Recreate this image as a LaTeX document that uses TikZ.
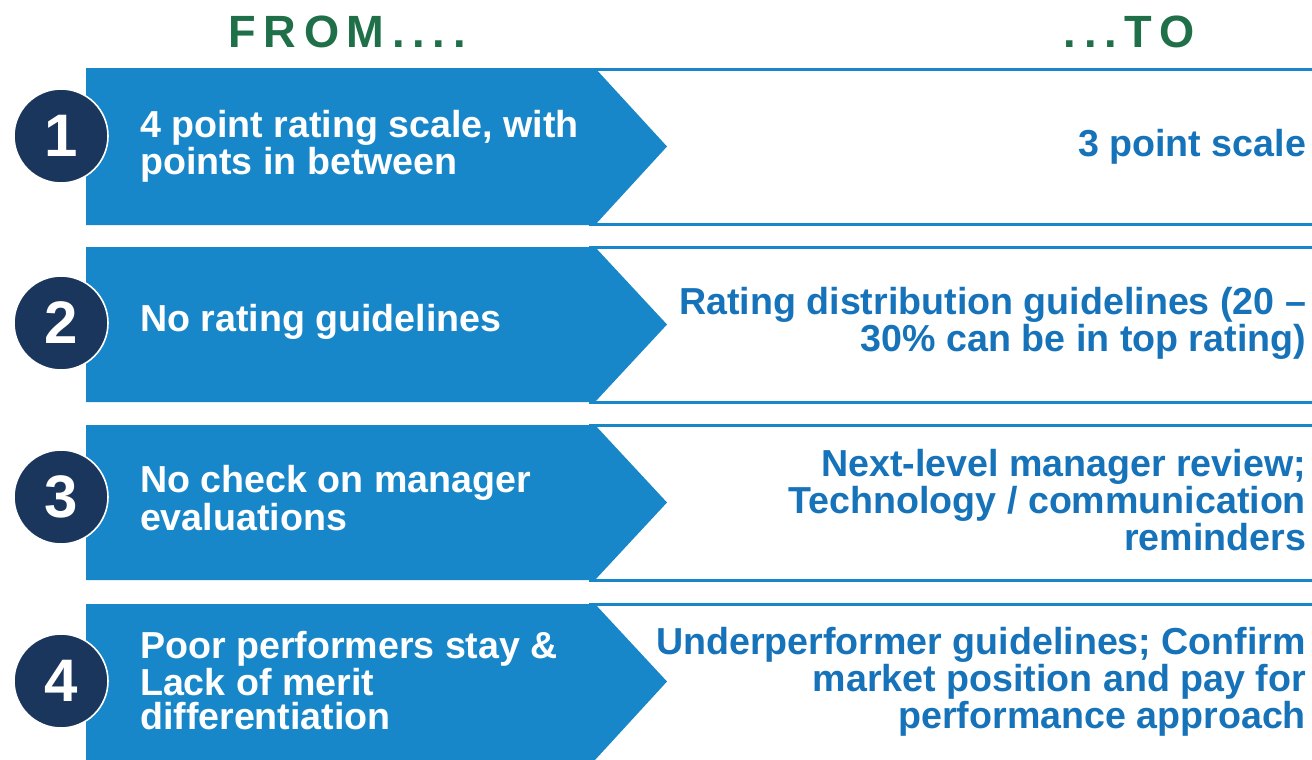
\documentclass[tikz,border=0pt]{standalone}
\usepackage{fontspec}
\setmainfont{Liberation Sans}
\usepackage{tikz}
\usetikzlibrary{positioning}
\definecolor{chgblue}{HTML}{1787C9}
\definecolor{chgtext}{HTML}{1673BA}
\definecolor{chgnavy}{HTML}{1B365D}
\definecolor{chggreen}{HTML}{1F7048}

\begin{document}
\begin{tikzpicture}[x=0.5pt, y=-0.5pt,
    band/.style={fill=chgblue},
    tobox/.style={draw=chgblue, line width=1.5pt, fill=white},
    num/.style={circle, fill=chgnavy, draw=white, line width=0.8pt, minimum size=47pt, inner sep=0pt, text=white, font=\bfseries\fontsize{30}{30}\selectfont},
    fromtext/.style={anchor=west, align=left, text=white, font=\bfseries\fontsize{18.8}{17}\selectfont},
    totext/.style={anchor=east, align=right, text=chgtext, font=\bfseries\fontsize{18.8}{17}\selectfont},
    head/.style={anchor=base, text=chggreen, font=\bfseries\fontsize{22.6}{24}\selectfont\addfontfeature{LetterSpace=17}}
]
    \useasboundingbox[fill=white] (0,0) rectangle (1312,760);

    % Column headings
    \node[head] (headfrom) at (347,47) {FROM....};
    \node[head] (headto) at (1129,47) {...TO};

    % Row 1: rating scale
    \draw[tobox] (590,69.5) rectangle (1330,224.5);
    \fill[band] (86,68) -- (595,68) -- (667,146.5) -- (595,225) -- (86,225) -- cycle;
    \node[num] (num1) at (61,136) {1};
    \node[fromtext] (from1) at (133,146) {4 point rating scale, with\\points in between};
    \node[totext] (to1) at (1313,147) {3 point scale};

    % Row 2: rating guidelines
    \draw[tobox] (590,247.5) rectangle (1330,402.5);
    \fill[band] (86,247) -- (595,247) -- (667,324.5) -- (595,402) -- (86,402) -- cycle;
    \node[num] (num2) at (61,323) {2};
    \node[fromtext] (from2) at (133,322) {No rating guidelines};
    \node[totext] (to2) at (1313,323) {Rating distribution guidelines (20 --\\30\% can be in top rating)};

    % Row 3: manager evaluations
    \draw[tobox] (590,425.5) rectangle (1330,580.5);
    \fill[band] (86,425) -- (595,425) -- (667,502.5) -- (595,580) -- (86,580) -- cycle;
    \node[num] (num3) at (61,497) {3};
    \node[fromtext] (from3) at (133,498) {No check on manager\\evaluations};
    \node[totext] (to3) at (1313,500) {Next-level manager review;\\Technology / communication\\reminders};

    % Row 4: performance and merit
    \draw[tobox] (590,604.5) rectangle (1330,770);
    \fill[band] (86,604) -- (595,604) -- (667,681.5) -- (595,760) -- (86,760) -- cycle;
    \node[num] (num4) at (61,681) {4};
    \node[fromtext] (from4) at (133,681) {Poor performers stay \&\\Lack of merit\\differentiation};
    \node[totext] (to4) at (1313,682) {Underperformer guidelines; Confirm\\market position and pay for\\performance approach};
\end{tikzpicture}
\end{document}
